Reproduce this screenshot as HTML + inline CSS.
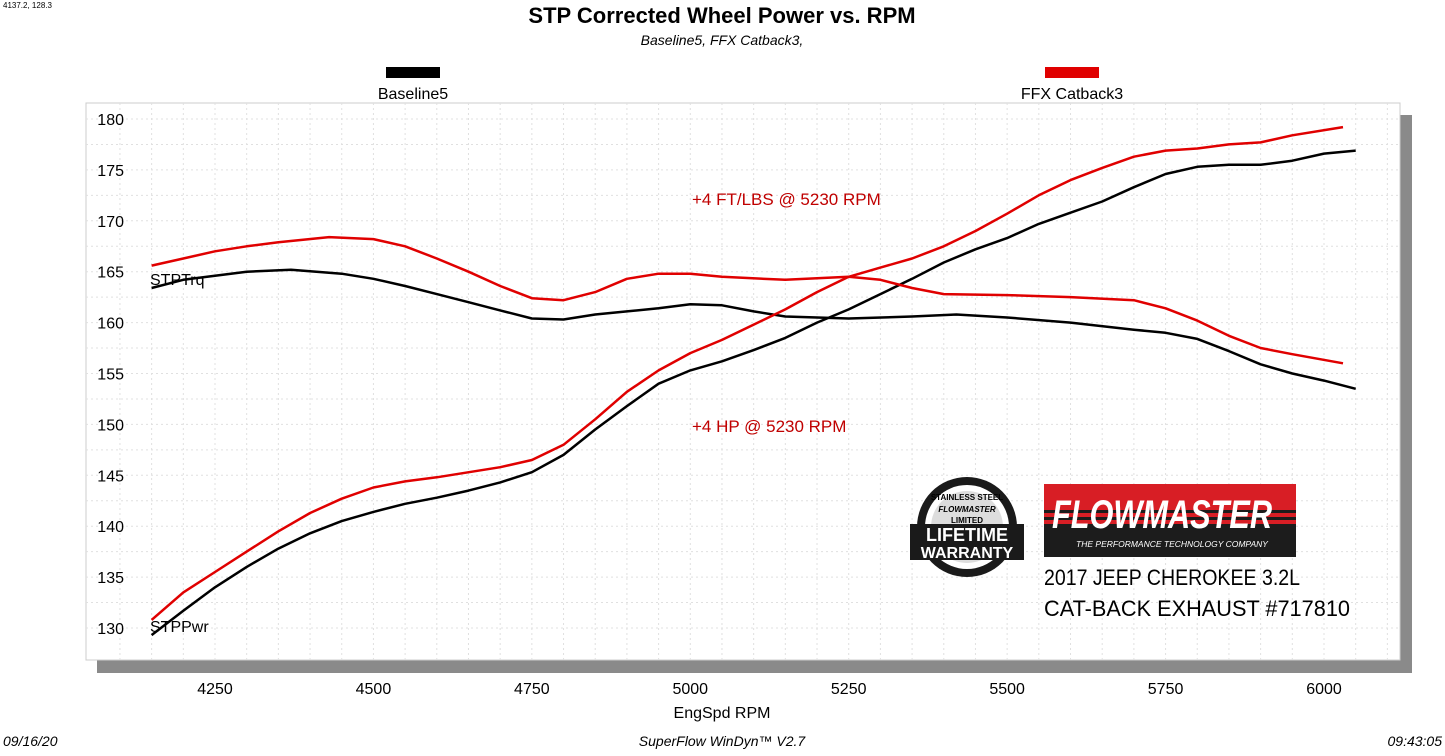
<!DOCTYPE html>
<html><head><meta charset="utf-8"><style>
body{margin:0;background:#fff;width:1445px;height:751px;overflow:hidden;font-family:"Liberation Sans",sans-serif}
</style></head><body>
<svg id="s" width="1445" height="751" xmlns="http://www.w3.org/2000/svg" font-family="Liberation Sans, sans-serif">
<text x="3" y="8" font-size="8">4137.2, 128.3</text>
<text x="722" y="23" font-size="22" font-weight="bold" text-anchor="middle">STP Corrected Wheel Power vs. RPM</text>
<text x="722" y="45" font-size="14" font-style="italic" text-anchor="middle">Baseline5, FFX Catback3,</text>
<rect x="386" y="67" width="54" height="11" fill="#000"/>
<text x="413" y="99" font-size="16" text-anchor="middle">Baseline5</text>
<rect x="1045" y="67" width="54" height="11" fill="#e00000"/>
<text x="1072" y="99" font-size="16" text-anchor="middle">FFX Catback3</text>
<rect x="97" y="115" width="1315" height="558" fill="#8a8a8a"/>
<rect x="86" y="103" width="1314" height="557" fill="#fff" stroke="#ccc"/>
<g id="grid"></g>
<g id="lab" font-size="16"></g>
<g id="curves"></g>
<text x="150" y="285" font-size="16">STPTrq</text>
<text x="150" y="632" font-size="16">STPPwr</text>
<text x="692" y="205" font-size="17" fill="#c00000" font-family="Liberation Sans, DejaVu Sans, sans-serif">+4 FT/LBS @ 5230 RPM</text>
<text x="692" y="432" font-size="17" fill="#c00000">+4 HP @ 5230 RPM</text>
<!-- warranty badge -->
<circle cx="967" cy="527" r="50" fill="#1a1a1a"/>
<circle cx="967" cy="527" r="42" fill="#fff"/>
<circle cx="967" cy="527" r="36" fill="#ddd"/>
<text x="967" y="500" font-size="8" font-weight="bold" text-anchor="middle">STAINLESS STEEL</text>
<text x="967" y="512" font-size="8" font-style="italic" font-weight="bold" text-anchor="middle">FLOWMASTER</text>
<text x="967" y="523" font-size="8" font-weight="bold" text-anchor="middle">LIMITED</text>
<rect x="910" y="524" width="114" height="36" fill="#1a1a1a"/>
<text x="967" y="541" font-size="18" font-weight="bold" fill="#fff" text-anchor="middle">LIFETIME</text>
<text x="967" y="558" font-size="16" font-weight="bold" fill="#fff" text-anchor="middle">WARRANTY</text>
<!-- flowmaster logo -->
<rect x="1044" y="484" width="252" height="73" fill="#1c1c1c"/>
<rect x="1044" y="484" width="252" height="40" fill="#d81e25"/>
<rect x="1044" y="510" width="252" height="3" fill="#1c1c1c"/>
<rect x="1044" y="517" width="252" height="3" fill="#1c1c1c"/>
<text x="1162" y="528" font-size="40" font-weight="bold" font-style="italic" fill="#fff" text-anchor="middle" textLength="220" lengthAdjust="spacingAndGlyphs">FLOWMASTER</text>
<text x="1172" y="547" font-size="8.5" font-style="italic" fill="#fff" text-anchor="middle">THE PERFORMANCE TECHNOLOGY COMPANY</text>
<text x="1044" y="585" font-size="22" textLength="256" lengthAdjust="spacingAndGlyphs">2017 JEEP CHEROKEE 3.2L</text>
<text x="1044" y="616" font-size="22" textLength="306" lengthAdjust="spacingAndGlyphs">CAT-BACK EXHAUST #717810</text>
<text x="722" y="718" font-size="16" text-anchor="middle">EngSpd  RPM</text>
<text x="3" y="746" font-size="14" font-style="italic">09/16/20</text>
<text x="722" y="746" font-size="14" font-style="italic" text-anchor="middle">SuperFlow WinDyn™ V2.7</text>
<text x="1442" y="746" font-size="14" font-style="italic" text-anchor="end">09:43:05</text>
</svg>
<script>
var X=r=>215+(r-4250)*0.63371, Y=v=>119+(180-v)*10.18;
var g='';
for(var r=4100;r<=6150;r+=50){var x=X(r);if(x>86&&x<1400)g+=`<line x1="${x}" y1="103" x2="${x}" y2="660" stroke="#e0e0e0" stroke-dasharray="2,3"/>`;}
for(var v=130;v<=182.5;v+=2.5){var y=Y(v);if(y>103&&y<660)g+=`<line x1="86" y1="${y}" x2="1400" y2="${y}" stroke="#e0e0e0" stroke-dasharray="2,3"/>`;}
document.getElementById('grid').innerHTML=g;
var l='';
for(var v=130;v<=180;v+=5)l+=`<text x="124" y="${Y(v)+6}" text-anchor="end">${v}</text>`;
for(var r=4250;r<=6000;r+=250)l+=`<text x="${X(r)}" y="694" text-anchor="middle">${r}</text>`;
document.getElementById('lab').innerHTML=l;
function P(a,c){return `<polyline fill="none" stroke="${c}" stroke-width="2.5" stroke-linejoin="round" points="${a.map(p=>X(p[0]).toFixed(1)+','+Y(p[1]).toFixed(1)).join(' ')}"/>`;}
var rt=[[4150,165.6],[4200,166.3],[4250,167],[4300,167.5],[4350,167.9],[4430,168.4],[4500,168.2],[4550,167.5],[4600,166.3],[4650,165],[4700,163.6],[4750,162.4],[4800,162.2],[4850,163],[4900,164.3],[4950,164.8],[5000,164.8],[5050,164.5],[5150,164.2],[5250,164.5],[5300,164.2],[5350,163.4],[5400,162.8],[5500,162.7],[5600,162.5],[5700,162.2],[5750,161.4],[5800,160.2],[5850,158.7],[5900,157.5],[5950,156.9],[6030,156]];
var bt=[[4150,163.4],[4200,164.2],[4250,164.6],[4300,165],[4370,165.2],[4450,164.8],[4500,164.3],[4550,163.6],[4600,162.8],[4650,162],[4700,161.2],[4750,160.4],[4800,160.3],[4850,160.8],[4900,161.1],[4950,161.4],[5000,161.8],[5050,161.7],[5100,161.1],[5150,160.6],[5250,160.4],[5350,160.6],[5420,160.8],[5500,160.5],[5600,160],[5700,159.3],[5750,159],[5800,158.4],[5850,157.2],[5900,155.9],[5950,155],[6000,154.3],[6050,153.5]];
var rp=[[4150,130.8],[4200,133.5],[4250,135.5],[4300,137.5],[4350,139.5],[4400,141.3],[4450,142.7],[4500,143.8],[4550,144.4],[4600,144.8],[4700,145.8],[4750,146.5],[4800,148],[4850,150.5],[4900,153.2],[4950,155.3],[5000,157],[5050,158.3],[5100,159.8],[5150,161.3],[5200,163],[5250,164.5],[5300,165.4],[5350,166.3],[5400,167.5],[5450,169],[5500,170.7],[5550,172.5],[5600,174],[5650,175.2],[5700,176.3],[5750,176.9],[5800,177.1],[5850,177.5],[5900,177.7],[5950,178.4],[6030,179.2]];
var bp=[[4150,129.3],[4200,131.7],[4250,134],[4300,136],[4350,137.8],[4400,139.3],[4450,140.5],[4500,141.4],[4550,142.2],[4600,142.8],[4650,143.5],[4700,144.3],[4750,145.3],[4800,147],[4850,149.5],[4900,151.8],[4950,154],[5000,155.3],[5050,156.2],[5100,157.3],[5150,158.5],[5200,160],[5250,161.3],[5300,162.8],[5350,164.3],[5400,165.9],[5450,167.2],[5500,168.3],[5550,169.7],[5600,170.8],[5650,171.9],[5700,173.3],[5750,174.6],[5800,175.3],[5850,175.5],[5900,175.5],[5950,175.9],[6000,176.6],[6050,176.9]];
document.getElementById('curves').innerHTML=P(bt,'#000')+P(bp,'#000')+P(rt,'#e00000')+P(rp,'#e00000');
</script>
</body></html>
